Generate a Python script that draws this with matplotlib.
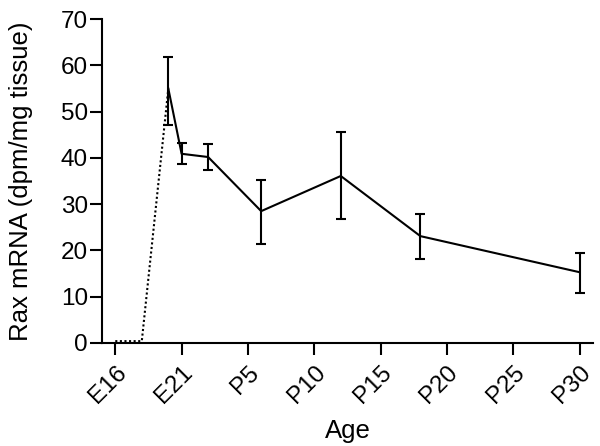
import matplotlib
matplotlib.use("Agg")
import matplotlib.pyplot as plt

plt.rcParams['font.family'] = ['Liberation Sans', 'DejaVu Sans']

tick_labels = ["E16", "E21", "P5", "P10", "P15", "P20", "P25", "P30"]
tick_pos = [0, 5, 10, 15, 20, 25, 30, 35]

# dotted early segment (age index, value)
dot_x = [0, 2, 4]
dot_y = [0.4, 0.4, 55]

# measured points with SEM
age_x = [4, 5, 7, 11, 17, 23, 35]
mrna = [55.0, 40.9, 40.2, 28.5, 36.1, 23.1, 15.3]
err_hi = [61.8, 43.3, 43.0, 35.2, 45.6, 27.9, 19.4]
err_lo = [47.2, 38.6, 37.5, 21.5, 26.7, 18.2, 10.7]

yerr = [[m - lo for m, lo in zip(mrna, err_lo)], [hi - m for m, hi in zip(mrna, err_hi)]]

fig = plt.figure(figsize=(6.0, 4.46), dpi=100)
ax = fig.add_axes([0.17, 0.231, 0.818, 0.726])

ax.plot(dot_x, dot_y, color='black', lw=1.5, linestyle=(0, (1, 1.2)), clip_on=False, zorder=3)
ax.errorbar(age_x, mrna, yerr=yerr, color='black', lw=1.5, elinewidth=1.5,
            capsize=3.5, capthick=1.5)

ax.set_xlim(-1, 36)
ax.set_ylim(0, 70)
ax.set_yticks(range(0, 71, 10))
ax.set_xticks(tick_pos)
ax.set_xticklabels(tick_labels, rotation=45, ha='right', rotation_mode='anchor')
ax.tick_params(axis='both', direction='out', length=8.5, width=1.5, labelsize=17.5, pad=1.5)
ax.tick_params(axis='x', pad=5)

for s in ['top', 'right']:
    ax.spines[s].set_visible(False)
for s in ['left', 'bottom']:
    ax.spines[s].set_linewidth(1.5)

ax.set_xlabel("Age", fontsize=18.5, labelpad=8)
ax.set_ylabel("Rax mRNA (dpm/mg tissue)", fontsize=18.5, labelpad=20)

fig.savefig("out.png", dpi=100)
